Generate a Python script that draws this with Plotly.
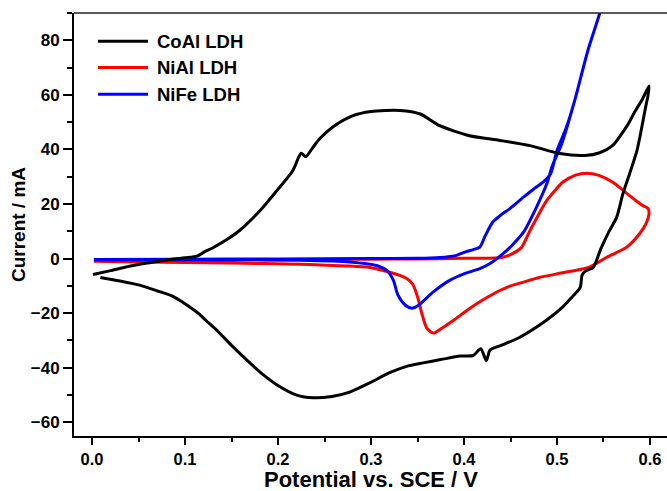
import plotly.graph_objects as go

# ---- data (potential in V, current in mA) ----
coal_fwd_x = [0.001, 0.02, 0.04, 0.06, 0.084, 0.1, 0.113, 0.12, 0.13, 0.145, 0.159, 0.181, 0.199, 0.216, 0.222, 0.225, 0.23, 0.237, 0.245, 0.26, 0.28, 0.3, 0.331, 0.353, 0.374, 0.406, 0.439, 0.471, 0.503, 0.53, 0.546, 0.56, 0.568, 0.576, 0.584, 0.592, 0.599]
coal_fwd_y = [-5.8, -4.4, -2.8, -1.6, -0.3, 0.3, 0.9, 2.3, 4.0, 7.0, 10.4, 17.7, 25, 32.3, 37, 38.6, 37.4, 40.5, 44, 48.5, 52.3, 53.9, 54.3, 53, 48.7, 45, 43.3, 41.4, 38.5, 37.8, 38.8, 41.5, 45, 49, 54, 58.5, 63.3]
coal_rev_x = [0.598, 0.595, 0.59, 0.586, 0.578, 0.571, 0.564, 0.556, 0.547, 0.539, 0.531, 0.527, 0.525, 0.515, 0.506, 0.489, 0.46, 0.44, 0.428, 0.424, 0.418, 0.41, 0.396, 0.375, 0.356, 0.34, 0.32, 0.3, 0.277, 0.258, 0.238, 0.22, 0.199, 0.185, 0.17, 0.15, 0.134, 0.122, 0.116, 0.11, 0.088, 0.07, 0.052, 0.03, 0.009]
coal_rev_y = [60, 55, 46, 39.6, 31, 23.9, 15, 10, 3.5, -3.2, -4.5, -6, -10.5, -14.5, -17.8, -22.5, -28.8, -31.8, -33.5, -37.4, -33, -35.5, -35.7, -37, -38.2, -39.3, -41.8, -45.3, -48.9, -50.5, -51, -50, -46.3, -42.8, -38.3, -31.8, -26.2, -22.5, -20.5, -18.9, -14, -11.8, -9.8, -8.2, -6.9]

nial_fwd_x = [0.002, 0.05, 0.1, 0.15, 0.2, 0.25, 0.3, 0.35, 0.4, 0.44, 0.452, 0.462, 0.471, 0.48, 0.489, 0.498, 0.506, 0.52, 0.532, 0.545, 0.56, 0.575, 0.585, 0.592, 0.598]
nial_fwd_y = [-0.8, -0.7, -0.6, -0.5, -0.4, -0.3, -0.2, -0.1, 0.1, 0.4, 1.8, 4.2, 10.3, 16, 21.3, 25, 28, 30.6, 31.3, 30.5, 28, 23.9, 21.2, 19.5, 18.3]
nial_rev_x = [0.599, 0.596, 0.589, 0.575, 0.554, 0.535, 0.506, 0.48, 0.464, 0.45, 0.439, 0.428, 0.417, 0.403, 0.39, 0.377, 0.367, 0.36, 0.355, 0.35, 0.345, 0.338, 0.32, 0.295, 0.259, 0.224, 0.15, 0.1, 0.05, 0.002]
nial_rev_y = [16.5, 13, 9.2, 4.2, 0.6, -3.1, -5.2, -7, -8.6, -10, -11.6, -13.6, -15.8, -19, -22.3, -25.3, -27.3, -25.5, -20.5, -14, -9.5, -7.2, -5, -3.1, -2.5, -2.1, -1.6, -1.4, -1.2, -1.0]

nife_fwd_x = [0.002, 0.1, 0.2, 0.3, 0.35, 0.374, 0.385, 0.392, 0.401, 0.41, 0.417, 0.423, 0.431, 0.439, 0.45, 0.464, 0.475, 0.485, 0.493, 0.5, 0.51, 0.519, 0.533, 0.546, 0.56]
nife_fwd_y = [-0.3, -0.2, -0.1, 0, 0.1, 0.4, 0.8, 1.2, 2.4, 3.3, 4.2, 8.5, 13.4, 15.8, 18.5, 22.5, 25.5, 28, 31, 39.6, 48, 57.9, 76, 90, 108]
nife_rev_x = [0.56, 0.546, 0.533, 0.519, 0.505, 0.495, 0.489, 0.478, 0.464, 0.452, 0.442, 0.428, 0.417, 0.4, 0.385, 0.367, 0.351, 0.344, 0.337, 0.329, 0.324, 0.317, 0.306, 0.277, 0.224, 0.15, 0.1, 0.05, 0.002]
nife_rev_y = [108, 90, 76, 57.9, 42, 34, 27.4, 18.9, 9.7, 5, 1.8, -1.8, -3.7, -5.6, -7.9, -12.2, -17.1, -18.2, -17.1, -13.4, -7.9, -4.3, -2.5, -1.2, -0.6, -0.4, -0.4, -0.4, -0.4]

series_names = ["CoAl LDH", "NiAl LDH", "NiFe LDH"]
series_colors = ["#000000", "#ff0000", "#0000ff"]

x_ticks = [0.0, 0.1, 0.2, 0.3, 0.4, 0.5, 0.6]
x_ticktext = ["0.0", "0.1", "0.2", "0.3", "0.4", "0.5", "0.6"]
y_ticks = [-60, -40, -20, 0, 20, 40, 60, 80]
x_title = "Potential vs. SCE / V"
y_title = "Current / mA"

FONT = "Liberation Sans, Arial, sans-serif"

fig = go.Figure()
curves = {
    "CoAl LDH": (coal_fwd_x + coal_rev_x, coal_fwd_y + coal_rev_y),
    "NiAl LDH": (nial_fwd_x + nial_rev_x, nial_fwd_y + nial_rev_y),
    "NiFe LDH": (nife_fwd_x + nife_rev_x, nife_fwd_y + nife_rev_y),
}
draw_order = ["NiAl LDH", "NiFe LDH", "CoAl LDH"]
for name in draw_order:
    xs, ys = curves[name]
    col = series_colors[series_names.index(name)]
    fig.add_trace(go.Scatter(x=xs, y=ys, mode="lines", name=name,
                             line=dict(color=col, width=3, shape="spline", smoothing=0.7),
                             showlegend=False))

# manual legend
leg_rows = [0.933, 0.871, 0.808]
for name, col, yy in zip(series_names, series_colors, leg_rows):
    fig.add_shape(type="line", xref="x domain", yref="y domain",
                  x0=0.0405, x1=0.1248, y0=yy, y1=yy,
                  line=dict(color=col, width=3))
    fig.add_annotation(xref="x domain", yref="y domain", x=0.136, y=yy,
                       text=name, showarrow=False, xanchor="left", yanchor="middle",
                       font=dict(family=FONT, size=18.5, color="black", weight="bold"))

# x-axis title placed at the very bottom of the figure
fig.add_annotation(xref="x domain", yref="paper", x=0.5, y=-0.1346,
                   text=x_title, showarrow=False, xanchor="center", yanchor="bottom",
                   borderpad=0,
                   font=dict(family=FONT, size=22, color="black", weight="bold"))

# top frame line
fig.add_shape(type="line", xref="paper", yref="paper", x0=0, x1=1, y0=1, y1=1,
              line=dict(color="#222222", width=1.5))

fig.update_layout(
    width=667, height=491,
    margin=dict(l=74, r=0, t=13, b=55),
    paper_bgcolor="white", plot_bgcolor="white",
    font=dict(family=FONT, color="black"),
    xaxis=dict(range=[-0.0194, 0.6183], tickvals=x_ticks, ticktext=x_ticktext,
               ticks="outside", ticklen=7, tickwidth=2, tickcolor="black",
               showline=True, linewidth=2, linecolor="black",
               showgrid=False, zeroline=False,
               tickfont=dict(family=FONT, size=16.5, weight="bold"),
               minor=dict(dtick=0.05, tick0=0, ticks="outside", ticklen=4, tickwidth=2, tickcolor="black", showgrid=False)),
    yaxis=dict(range=[-65, 90], tickvals=y_ticks,
               ticks="outside", ticklen=9, tickwidth=2, tickcolor="black",
               showline=True, linewidth=2, linecolor="black",
               showgrid=False, zeroline=False,
               tickfont=dict(family=FONT, size=17, weight="bold"),
               minor=dict(dtick=10, tick0=0, ticks="outside", ticklen=5, tickwidth=2, tickcolor="black", showgrid=False),
               title=dict(text=y_title, standoff=0,
                          font=dict(family=FONT, size=19, weight="bold"))),
)

fig.write_html("out.html")
